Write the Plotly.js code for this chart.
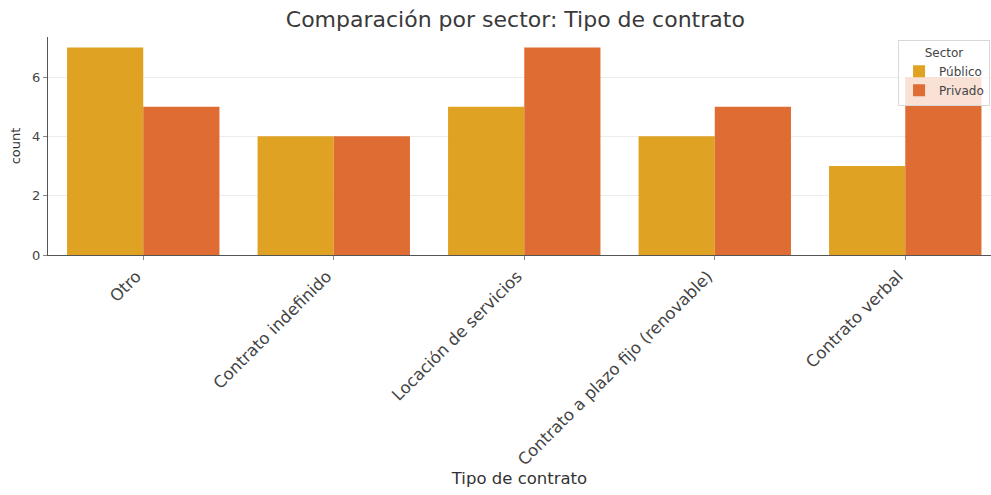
<!DOCTYPE html>
<html>
<head>
<meta charset="utf-8">
<script src="https://cdn.plot.ly/plotly-3.0.1.min.js"></script>
<style>html,body{margin:0;padding:0;background:#fff;}#chart{width:991px;height:495px;}</style>
</head>
<body>
<div id="chart"></div>
<script>
const categories = ["Otro", "Contrato indefinido", "Locación de servicios", "Contrato a plazo fijo (renovable)", "Contrato verbal"];
const publico = [7, 4, 5, 4, 3];
const privado = [5, 4, 7, 5, 6];
const seriesNames = ["Público", "Privado"];
const yTicks = [0, 2, 4, 6];

const font = "DejaVu Sans, Verdana, sans-serif";
const traces = [
  {type: "bar", name: seriesNames[0], x: categories, y: publico,
   marker: {color: "#DFA223", line: {width: 0}}},
  {type: "bar", name: seriesNames[1], x: categories, y: privado,
   marker: {color: "#DF6C33", line: {width: 0}}}
];
const layout = {
  width: 991, height: 495,
  margin: {l: 48, r: 0, t: 37, b: 240, autoexpand: false},
  paper_bgcolor: "#fff", plot_bgcolor: "#fff",
  font: {family: font, color: "#444", size: 12},
  title: {text: "Comparación por sector: Tipo de contrato", x: 0.52, xanchor: "center", y: 0.962, yanchor: "middle",
          font: {size: 22, color: "#3a3a3a", family: font}},
  barmode: "group", bargap: 0.2, bargroupgap: 0,
  xaxis: {
    type: "category", range: [-0.5, 4.45], automargin: false,
    tickangle: -45, ticks: "outside", ticklen: 4, tickcolor: "#888",
    ticklabelshift: -7,
    showline: true, linecolor: "#555", linewidth: 1.2, showgrid: false, zeroline: false,
    tickfont: {size: 16.5, color: "#444"},
    title: {text: "Tipo de contrato", standoff: 2, font: {size: 16.5, color: "#333"}}
  },
  yaxis: {
    range: [0, 7.35], automargin: false,
    tickvals: yTicks, ticktext: yTicks.map(String),
    ticks: "outside", ticklen: 4, tickcolor: "#888",
    showline: true, linecolor: "#555", linewidth: 1.2,
    showgrid: true, gridcolor: "#ececec", gridwidth: 1, zeroline: false,
    tickfont: {size: 13, color: "#444"},
    title: {text: "count", standoff: 8, font: {size: 13, color: "#333"}}
  },
  legend: {
    x: 0.999, y: 0.985, xanchor: "right", yanchor: "top",
    bgcolor: "rgba(255,255,255,0.8)", bordercolor: "#d8d8d8", borderwidth: 1,
    font: {size: 12, color: "#444"},
    title: {text: "Sector", side: "top center", font: {size: 12, color: "#444"}},
    itemwidth: 30
  },
  showlegend: true
};
Plotly.newPlot("chart", traces, layout, {displayModeBar: false, staticPlot: true});
</script>
</body>
</html>
